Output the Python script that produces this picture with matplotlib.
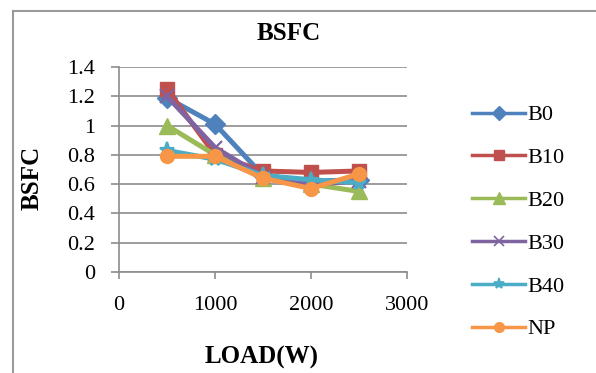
import matplotlib
matplotlib.use("Agg")
import matplotlib.pyplot as plt
from matplotlib.lines import Line2D

load = [500, 1000, 1500, 2000, 2500]
series_names = ["B0", "B10", "B20", "B30", "B40", "NP"]
b0 = [1.19, 1.01, 0.66, 0.62, 0.63]
b10 = [1.25, 0.80, 0.69, 0.68, 0.69]
b20 = [1.00, 0.80, 0.64, 0.60, 0.55]
b30 = [1.20, 0.85, 0.65, 0.60, 0.62]
b40 = [0.83, 0.77, 0.66, 0.63, 0.61]
np_ = [0.79, 0.79, 0.64, 0.57, 0.67]
values = [b0, b10, b20, b30, b40, np_]
colors = ["#4F81BD", "#C0504D", "#9BBB59", "#8064A2", "#4BACC6", "#F79646"]
markers = ["D", "s", "^", "x", "*", "o"]
msizes = [10, 10, 11, 10, 11, 10]
yticks = [0, 0.2, 0.4, 0.6, 0.8, 1, 1.2, 1.4]
ytick_labels = ["0", "0.2", "0.4", "0.6", "0.8", "1", "1.2", "1.4"]
xticks = [0, 1000, 2000, 3000]

plt.rcParams['font.family'] = ['Liberation Serif', 'DejaVu Serif']

W, H = 596, 373
fig = plt.figure(figsize=(W / 100, H / 100), dpi=100)
ax = fig.add_axes([119 / W, 1 - 272 / H, (407 - 119) / W, (272 - 67) / H])

for name, vals, c, m, ms in zip(series_names, values, colors, markers, msizes):
    ax.plot(load, vals, color=c, marker=m, markersize=ms, linewidth=3.6,
            markeredgewidth=1.6 if m in ("x", "*") else 1, markeredgecolor=c, label=name)

ax.set_xlim(0, 3000)
ax.set_ylim(0, 1.4)
ax.set_yticks(yticks)
ax.set_yticklabels(ytick_labels)
ax.set_xticks(xticks)
ax.grid(axis='y', color='#8c8c8c', linewidth=1.2)
ax.set_axisbelow(True)
for s in ["top", "right"]:
    ax.spines[s].set_visible(False)
for s in ["left", "bottom"]:
    ax.spines[s].set_color('#8c8c8c')
    ax.spines[s].set_linewidth(1.2)
ax.tick_params(axis='y', colors='#8c8c8c', labelcolor='black', labelsize=16, length=6, width=1.2, pad=11)
ax.tick_params(axis='x', colors='#8c8c8c', labelcolor='black', labelsize=16, length=5, width=1.2, pad=12)

fig.text(289 / W, 1 - 33 / H, "BSFC", fontsize=18, fontweight='bold', ha='center', va='center')
fig.text(32 / W, 1 - 178 / H, "BSFC", fontsize=18, fontweight='bold', ha='center', va='center', rotation=90)
fig.text(262 / W, 1 - 357 / H, "LOAD(W)", fontsize=18, fontweight='bold', ha='center', va='center')

handles = [Line2D([0], [0], color=c, marker=m, markersize=ms - 3, linewidth=2.5,
                  markeredgecolor=c, markeredgewidth=1.2 if m in ("x", "*") else 1)
           for c, m, ms in zip(colors, markers, msizes)]
leg = fig.legend(handles, series_names, loc='upper left', bbox_to_anchor=(463 / W, 1 - 96 / H),
                 frameon=False, fontsize=16, handlelength=2.4, handletextpad=0.1,
                 labelspacing=1.0, borderaxespad=0)

# chart-area border (left and top edges visible)
fig.add_artist(Line2D([13 / W, 13 / W], [0, 1 - 11 / H], transform=fig.transFigure,
                      color='#9a9a9a', linewidth=1.5))
fig.add_artist(Line2D([13 / W, 1], [1 - 11 / H, 1 - 11 / H], transform=fig.transFigure,
                      color='#9a9a9a', linewidth=1.5))

fig.savefig("out.png", dpi=100)
